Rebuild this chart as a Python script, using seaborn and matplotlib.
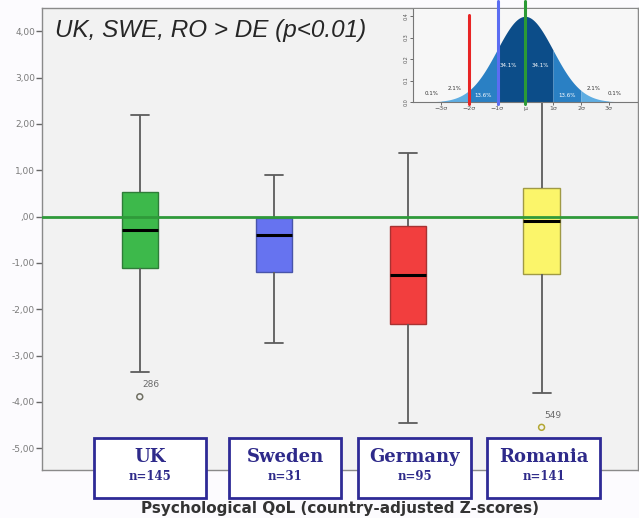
import numpy as np
import pandas as pd
import seaborn as sns
import matplotlib.pyplot as plt
from matplotlib.patches import Rectangle

#####################
### Data
#####################

countries = ["UK", "Sweden", "Germany", "Romania"]
n_sizes = [145, 31, 95, 141]
box_colors = ["#3db94b", "#6673f0", "#f23e3e", "#fbf56a"]
edge_colors = ["#2e7d38", "#4854aa", "#a83232", "#a09a45"]

# five-number summaries
whisk_lo = [-3.35, -2.74, -4.45, -3.80]
q1 = [-1.12, -1.19, -2.32, -1.23]
medians = [-0.29, -0.40, -1.26, -0.10]
q3 = [0.53, -0.03, -0.21, 0.62]
whisk_hi = [2.19, 0.90, 1.37, 3.20]

outlier_country = ["UK", "Romania"]
outlier_value = [-3.89, -4.55]
outlier_case = ["286", "549"]
outlier_colors = ["#6f6f62", "#b3a733"]

y_ticks = [4, 3, 2, 1, 0, -1, -2, -3, -4, -5]
y_ticklabels = ["4,00", "3,00", "2,00", "1,00", ",00", "-1,00", "-2,00", "-3,00", "-4,00", "-5,00"]

# normal distribution inset
sigma_ticks = [-3, -2, -1, 0, 1, 2, 3]
sigma_labels = ["\u22123\u03c3", "\u22122\u03c3", "\u22121\u03c3", "\u03bc", "1\u03c3", "2\u03c3", "3\u03c3"]
band_lo = [-4, -3, -2, -1, 1, 2, 3]
band_hi = [-3, -2, -1, 1, 2, 3, 4]
band_colors = ["#a9d3ef", "#5eade2", "#2a80c4", "#0c4d89", "#2a80c4", "#5eade2", "#a9d3ef"]
pct_text = ["0.1%", "2.1%", "13.6%", "34.1%", "34.1%", "13.6%", "2.1%", "0.1%"]
pct_x = [-3.35, -2.5, -1.5, -0.6, 0.55, 1.5, 2.45, 3.2]
pct_y = [0.04, 0.065, 0.03, 0.17, 0.17, 0.03, 0.065, 0.04]
pct_col = ["#333333", "#333333", "white", "white", "white", "white", "#333333", "#333333"]
group_pos = [-2.0, -0.95, 0.0]
group_top = [0.405, 0.47, 0.47]
group_colors = ["#e82525", "#5b6df2", "#2b9a35"]

#####################
### Long table for seaborn
#####################

rows = []
for i, c in enumerate(countries):
    for v in [whisk_lo[i], q1[i], medians[i], q3[i], whisk_hi[i]]:
        rows.append({"country": c, "value": v})
df = pd.DataFrame(rows)

W, H = 639, 518


def fx(x):
    return x / W


def fy(y):
    return 1 - y / H


sns.set_style("ticks")
plt.rcParams["font.family"] = ["DejaVu Sans"]

fig = plt.figure(figsize=(W / 100, H / 100), dpi=100)
fig.patch.set_facecolor("#fcfbfe")

ax = fig.add_axes([fx(42), fy(469.5), fx(638) - fx(42), fy(8) - fy(469.5)])
ax.set_facecolor("#f2f2f2")

sns.boxplot(data=df, x="country", y="value", hue="country", palette=box_colors,
            saturation=1, width=0.27, whis=(0, 100), showfliers=False,
            linecolor="#5c5c5c", linewidth=1.3,
            medianprops=dict(color="black", linewidth=2.2),
            legend=False, ax=ax)
for p, c in zip(ax.patches, edge_colors):
    p.set_edgecolor(c)
    p.set_linewidth(1.0)

# outliers
for c, v, lab, col in zip(outlier_country, outlier_value, outlier_case, outlier_colors):
    xi = countries.index(c)
    ax.scatter([xi], [v], s=18, facecolors="none", edgecolors=col, linewidths=1.1, zorder=5)
    ax.text(xi + 0.02, v + 0.26, lab, fontsize=6.5, color="#6a6a6a", ha="left", va="center")

ax.axhline(0, color="#2f9a3a", lw=2.0, zorder=4)

ax.set_xlim(-0.73, 3.72)
ax.set_ylim(-5.46, 4.50)
ax.set_xticks([])
ax.set_xlabel("")
ax.set_ylabel("")
ax.set_yticks(y_ticks)
ax.set_yticklabels(y_ticklabels, fontsize=6.5, color="#7a7a7a")
ax.tick_params(axis="y", length=4, width=1, color="#666666", pad=1)
for s in ax.spines.values():
    s.set_color("#8a8a8a")
    s.set_linewidth(1.0)

fig.text(fx(55), fy(31), "UK, SWE, RO > DE (p<0.01)", fontsize=17.5, style="italic",
         family="Liberation Sans", color="#262626", ha="left", va="center")

#####################
### Inset normal curve
#####################

ax_in = fig.add_axes([fx(413), fy(102), fx(637) - fx(413), fy(9) - fy(102)])
ax_in.set_facecolor("#f7f7f7")
xs = np.linspace(-4, 4, 801)
pdf = np.exp(-xs ** 2 / 2) / np.sqrt(2 * np.pi)
for lo, hi, col in zip(band_lo, band_hi, band_colors):
    m = (xs >= lo) & (xs <= hi)
    ax_in.fill_between(xs[m], 0, pdf[m], color=col, lw=0)
for t, xx, yy, col in zip(pct_text, pct_x, pct_y, pct_col):
    ax_in.text(xx, yy, t, fontsize=4, color=col, ha="center", va="center")
for xx, top, col in zip(group_pos, group_top, group_colors):
    ax_in.plot([xx, xx], [-0.01, top], color=col, lw=2.2, clip_on=False, zorder=6)
ax_in.set_xlim(-4, 4)
ax_in.set_ylim(0, 0.433)
ax_in.set_xticks(sigma_ticks)
ax_in.set_xticklabels(sigma_labels, fontsize=4.5, color="#555555")
ax_in.set_yticks([0, 0.1, 0.2, 0.3, 0.4])
ax_in.set_yticklabels(["0.0", "0.1", "0.2", "0.3", "0.4"], fontsize=3.5, rotation=90,
                      color="#555555", va="center")
ax_in.tick_params(length=2, width=0.6, pad=1, color="#555555")
for s in ["top", "right"]:
    ax_in.spines[s].set_visible(False)
for s in ["left", "bottom"]:
    ax_in.spines[s].set_color("#777777")
    ax_in.spines[s].set_linewidth(0.8)

#####################
### Category boxes and axis title
#####################

box_left = [94, 229, 358, 487]
box_right = [206, 341, 471, 600]
for i, c in enumerate(countries):
    l, r = box_left[i], box_right[i]
    fig.add_artist(Rectangle((fx(l), fy(498)), fx(r) - fx(l), fy(438) - fy(498),
                             transform=fig.transFigure, facecolor="white",
                             edgecolor="#2e2a96", lw=2.0, zorder=10))
    cx = fx((l + r) / 2)
    fig.text(cx, fy(457), c, fontsize=13, fontweight="bold", family="DejaVu Serif",
             color="#2e2a8a", ha="center", va="center", zorder=11)
    fig.text(cx, fy(476), "n=%d" % n_sizes[i], fontsize=8.5, fontweight="bold",
             family="DejaVu Serif", color="#2e2a8a", ha="center", va="center", zorder=11)

fig.text(fx(340), fy(508), "Psychological QoL (country-adjusted Z-scores)", fontsize=11,
         fontweight="bold", color="#333333", ha="center", va="center")

fig.savefig("out.png", dpi=100, facecolor=fig.get_facecolor())
